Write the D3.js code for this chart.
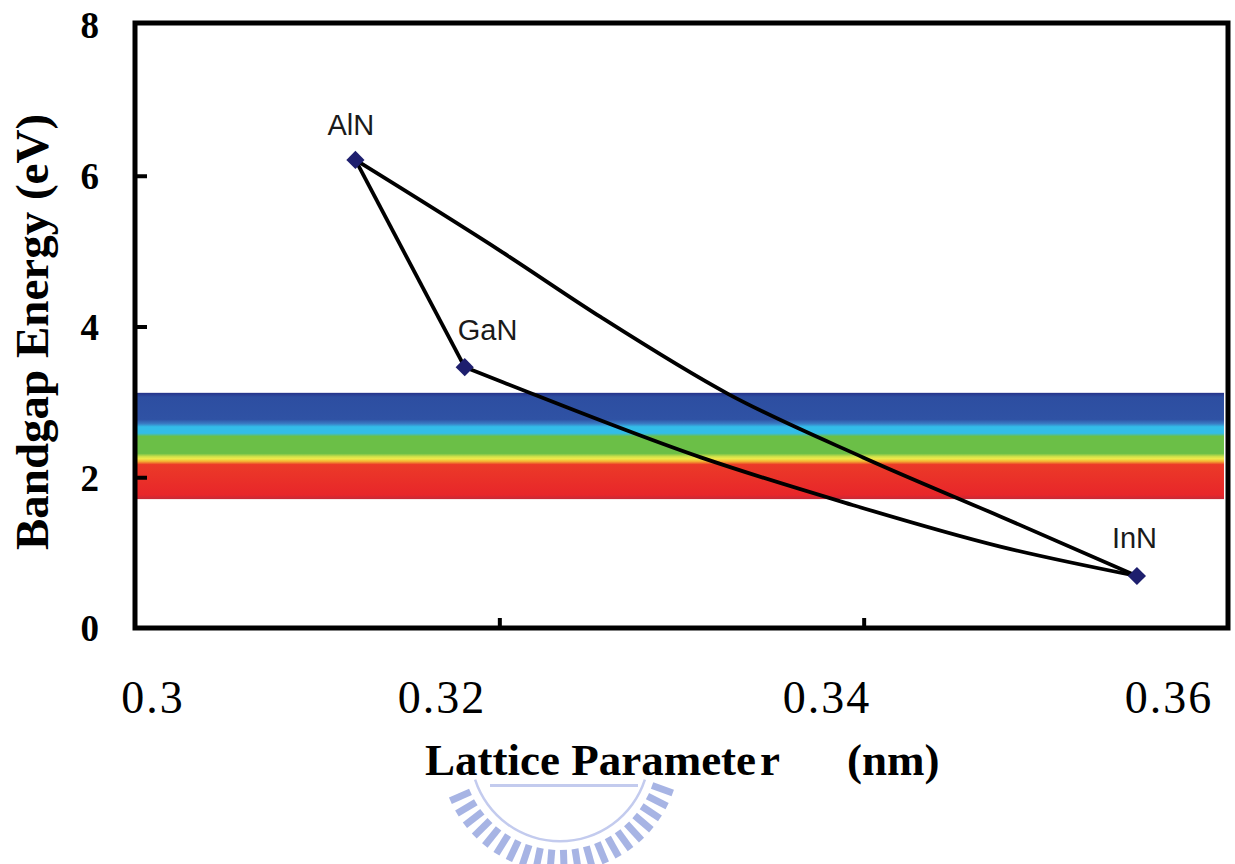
<!DOCTYPE html>
<html>
<head>
<meta charset="utf-8">
<script src="https://cdn.jsdelivr.net/npm/d3@7"></script>
<style>
  html, body { margin: 0; padding: 0; background: #fff; }
  svg { display: block; }
</style>
</head>
<body>
<svg id="chart" width="1235" height="864"></svg>
<script>
// Bandgap vs lattice parameter for the III-nitrides

// binary compounds
const materials = ["AlN", "GaN", "InN"];
const latticeA = [0.3121, 0.3181, 0.3550];
const bandgapE = [6.21, 3.46, 0.69];

// AlN -> InN bowing curve
const alInA = [0.3121, 0.3202, 0.3256, 0.3326, 0.3400, 0.3475, 0.3550];
const alInE = [6.21, 4.98, 4.12, 3.10, 2.26, 1.48, 0.69];

// GaN -> InN bowing curve
const gaInA = [0.3181, 0.3202, 0.3311, 0.3390, 0.3475, 0.3550];
const gaInE = [3.46, 3.26, 2.26, 1.66, 1.08, 0.69];

// AlN -> GaN (straight)
const alGaA = [0.3121, 0.3181];
const alGaE = [6.21, 3.46];

// visible spectrum band (eV)
const visibleBand = [1.71, 3.12];

const xTicks = [0.3, 0.32, 0.34, 0.36];
const xTickLabels = ["0.3", "0.32", "0.34", "0.36"];
const yTicks = [0, 2, 4, 6, 8];

const svg = d3.select('#chart');

const plot = {left: 135, right: 1228, top: 25, bottom: 628};

const x = d3.scaleLinear().domain([0.3, 0.36]).range([plot.left, plot.right]);
const y = d3.scaleLinear().domain([0, 8]).range([plot.bottom, plot.top]);
// the tick labels sit a bit off their ticks in the original
const xLabelPos = d3.scaleLinear().domain([0.3, 0.32, 0.34, 0.36]).range([153, 442, 827, 1169]);

/*
** watermark emblem (faint, behind everything)
*/
const wm = svg.append('g').attr('class', 'watermark')
    .attr('transform', 'translate(560,752)')
    .attr('fill', '#a7b4e4').attr('stroke', 'none');
d3.range(20, 161, 6.8).forEach(a => {
    wm.append('rect')
        .attr('x', 98).attr('y', -3.5).attr('width', 22).attr('height', 7)
        .attr('transform', `rotate(${a})`);
});
wm.append('path')
    .attr('d', d3.arc()({innerRadius: 88, outerRadius: 90.5, startAngle: Math.PI * 0.6, endAngle: Math.PI * 1.4}))
    .attr('fill', '#c3cbee');
wm.append('rect').attr('x', -70).attr('y', 32).attr('width', 148).attr('height', 3).attr('fill', '#c3cbee');

/*
** visible band gradient
*/
const defs = svg.append('defs');
const grad = defs.append('linearGradient')
    .attr('id', 'visible').attr('x1', 0).attr('y1', 0).attr('x2', 0).attr('y2', 1);
[
    [0.00, '#26338a'], [0.04, '#2d4ea1'], [0.25, '#2f52a4'], [0.29, '#3a7cc4'],
    [0.32, '#33bde9'], [0.38, '#33bde9'], [0.41, '#6bbf47'], [0.57, '#6bbf47'],
    [0.60, '#cfe04a'], [0.62, '#f0ea4b'], [0.645, '#f4b233'], [0.675, '#eb3a28'],
    [0.96, '#e8262a'], [1.00, '#c42a38']
].forEach(s => grad.append('stop').attr('offset', s[0]).attr('stop-color', s[1]));

svg.append('rect')
    .attr('class', 'band')
    .attr('x', x(0.3) + 2)
    .attr('width', x(0.36) - x(0.3) - 6)
    .attr('y', y(visibleBand[1]))
    .attr('height', y(visibleBand[0]) - y(visibleBand[1]))
    .attr('fill', 'url(#visible)');

/*
** frame + axes
*/
svg.append('rect')
    .attr('x', plot.left).attr('y', plot.top - 2)
    .attr('width', plot.right - plot.left).attr('height', plot.bottom - plot.top + 2)
    .attr('fill', 'none').attr('stroke', '#000').attr('stroke-width', 5);

const xAxis = svg.append('g')
    .attr('transform', `translate(0,${plot.bottom})`)
    .call(d3.axisBottom(x).tickValues([0.32, 0.34]).tickSize(-10).tickFormat(''));
xAxis.select('.domain').remove();
xAxis.selectAll('line').attr('stroke', '#000').attr('stroke-width', 4);

const yAxis = svg.append('g')
    .attr('transform', `translate(${plot.left},0)`)
    .call(d3.axisLeft(y).tickValues([2, 4, 6]).tickSize(-12).tickFormat(''));
yAxis.select('.domain').remove();
yAxis.selectAll('line').attr('stroke', '#000').attr('stroke-width', 4);

svg.append('g').selectAll('text')
    .data(yTicks)
    .join('text')
    .attr('x', 99)
    .attr('y', d => y(d))
    .attr('dy', '0.36em')
    .attr('text-anchor', 'end')
    .attr('font-family', '"Liberation Serif", "Times New Roman", serif')
    .attr('font-weight', 'bold')
    .attr('font-size', 37)
    .text(d => d);

svg.append('g').selectAll('text')
    .data(xTicks)
    .join('text')
    .attr('x', d => xLabelPos(d))
    .attr('y', 713)
    .attr('text-anchor', 'middle')
    .attr('font-family', '"Liberation Serif", "Times New Roman", serif')
    .attr('font-size', 46)
    .attr('letter-spacing', 2)
    .text((d, i) => xTickLabels[i]);

// axis titles
svg.append('text')
    .attr('transform', 'translate(48,332) rotate(-90)')
    .attr('text-anchor', 'middle')
    .attr('font-family', '"Liberation Serif", "Times New Roman", serif')
    .attr('font-weight', 'bold')
    .attr('font-size', 47)
    .text('Bandgap Energy (eV)');

const xTitle = svg.append('text')
    .attr('y', 775)
    .attr('font-family', '"Liberation Serif", "Times New Roman", serif')
    .attr('font-weight', 'bold')
    .attr('font-size', 45);
xTitle.append('tspan').attr('x', 425).text('Lattice Paramete');
xTitle.append('tspan').attr('dx', 4).text('r');
xTitle.append('tspan').attr('x', 847).text('(nm)');

/*
** alloy curves
*/
const line = d3.line()
    .x(d => x(d[0]))
    .y(d => y(d[1]))
    .curve(d3.curveMonotoneX);

const curves = [
    d3.zip(alGaA, alGaE),
    d3.zip(alInA, alInE),
    d3.zip(gaInA, gaInE)
];

svg.append('g').selectAll('path')
    .data(curves)
    .join('path')
    .attr('d', line)
    .attr('fill', 'none')
    .attr('stroke', '#000')
    .attr('stroke-width', 3.8)
    .attr('stroke-linejoin', 'round');

/*
** binary points + labels
*/
const points = materials.map((m, i) => ({name: m, a: latticeA[i], e: bandgapE[i]}));

svg.append('g').selectAll('path')
    .data(points)
    .join('path')
    .attr('transform', d => `translate(${x(d.a)},${y(d.e)}) rotate(45)`)
    .attr('d', d3.symbol(d3.symbolSquare, 165))
    .attr('fill', '#1e1f6e');

const labelOffset = {AlN: [-28, -25], GaN: [-7, -27], InN: [-25, -28]};
svg.append('g').selectAll('text')
    .data(points)
    .join('text')
    .attr('x', d => x(d.a) + labelOffset[d.name][0])
    .attr('y', d => y(d.e) + labelOffset[d.name][1])
    .attr('font-family', '"Liberation Sans", Arial, sans-serif')
    .attr('font-size', 29)
    .attr('fill', '#1a1a1a')
    .text(d => d.name);
</script>
</body>
</html>
